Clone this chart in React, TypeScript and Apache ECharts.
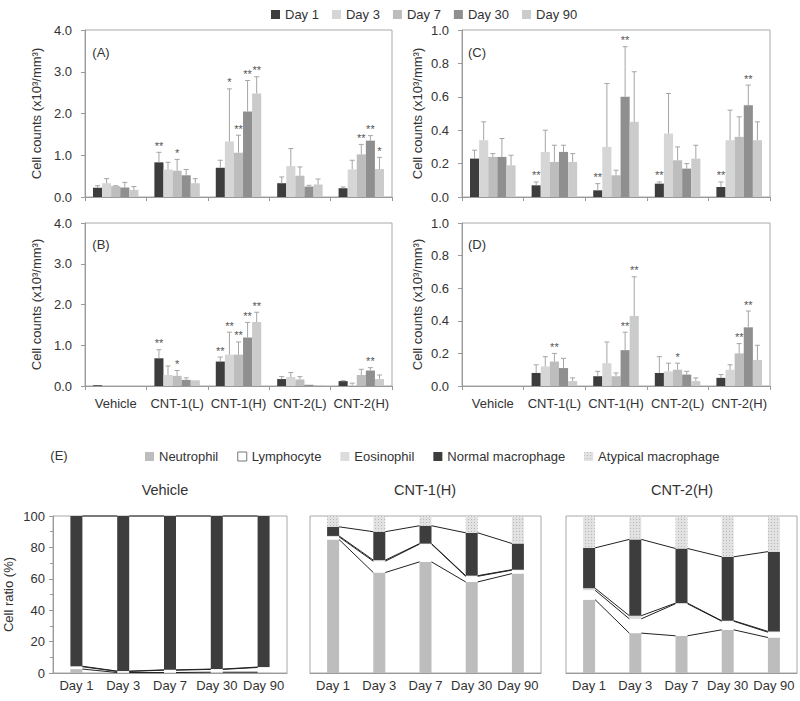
import React, { useEffect, useRef } from "react";
import * as echarts from "echarts";

const FONT = '"Liberation Sans", Arial, Helvetica, sans-serif';
const TXT = "#333";
const AX = "#9a9a9a";

const categories = ["Vehicle", "CNT-1(L)", "CNT-1(H)", "CNT-2(L)", "CNT-2(H)"];
const days = ["Day 1", "Day 3", "Day 7", "Day 30", "Day 90"];
const dayColors = ["#3d3d3d", "#d6d6d6", "#bdbdbd", "#8f8f8f", "#cbcbcb"];

// Panel A (x10^3/mm^3), rows = days, cols = categories
const meanA = [
  [0.22, 0.83, 0.7, 0.33, 0.21],
  [0.33, 0.66, 1.33, 0.74, 0.66],
  [0.26, 0.63, 1.06, 0.51, 1.02],
  [0.23, 0.52, 2.05, 0.25, 1.35],
  [0.17, 0.33, 2.48, 0.3, 0.67],
];
const sdA = [
  [0.05, 0.24, 0.18, 0.15, 0.03],
  [0.11, 0.17, 1.26, 0.42, 0.22],
  [0.01, 0.27, 0.42, 0.21, 0.24],
  [0.12, 0.14, 0.74, 0.03, 0.12],
  [0.08, 0.11, 0.4, 0.13, 0.28],
];
const starA = [
  ["", "**", "", "", ""],
  ["", "", "*", "", ""],
  ["", "*", "**", "", "**"],
  ["", "", "**", "", "**"],
  ["", "", "**", "", "*"],
];

// Panel B
const meanB = [
  [0.02, 0.68, 0.6, 0.17, 0.12],
  [0, 0.27, 0.77, 0.22, 0.02],
  [0, 0.25, 0.77, 0.16, 0.27],
  [0, 0.15, 1.19, 0.03, 0.38],
  [0, 0.14, 1.57, 0.02, 0.17],
];
const sdB = [
  [0, 0.21, 0.11, 0.06, 0.01],
  [0, 0.22, 0.55, 0.11, 0.05],
  [0, 0.13, 0.31, 0.07, 0.14],
  [0, 0.05, 0.37, 0, 0.07],
  [0, 0, 0.24, 0, 0.1],
];
const starB = [
  ["", "**", "**", "", ""],
  ["", "", "**", "", ""],
  ["", "*", "**", "", ""],
  ["", "", "**", "", "**"],
  ["", "", "**", "", ""],
];

// Panel C
const meanC = [
  [0.23, 0.07, 0.04, 0.08, 0.06],
  [0.34, 0.27, 0.3, 0.38, 0.34],
  [0.24, 0.21, 0.13, 0.22, 0.36],
  [0.24, 0.27, 0.6, 0.17, 0.55],
  [0.19, 0.21, 0.45, 0.23, 0.34],
];
const sdC = [
  [0.05, 0.02, 0.04, 0.01, 0.03],
  [0.11, 0.13, 0.38, 0.24, 0.18],
  [0.02, 0.1, 0.03, 0.08, 0.12],
  [0.11, 0.04, 0.3, 0.03, 0.12],
  [0.06, 0.05, 0.3, 0.08, 0.11],
];
const starC = [
  ["", "**", "**", "**", "**"],
  ["", "", "", "", ""],
  ["", "", "", "", ""],
  ["", "", "**", "", "**"],
  ["", "", "", "", ""],
];

// Panel D
const meanD = [
  [0, 0.08, 0.06, 0.08, 0.05],
  [0, 0.12, 0.14, 0.09, 0.1],
  [0, 0.15, 0.06, 0.1, 0.2],
  [0, 0.11, 0.22, 0.07, 0.36],
  [0, 0.03, 0.43, 0.03, 0.16],
];
const sdD = [
  [0, 0.05, 0.03, 0.1, 0.02],
  [0, 0.06, 0.13, 0.05, 0.03],
  [0, 0.05, 0.02, 0.04, 0.06],
  [0, 0.06, 0.11, 0.02, 0.1],
  [0, 0.02, 0.24, 0.02, 0.09],
];
const starD = [
  ["", "", "", "", ""],
  ["", "", "", "", ""],
  ["", "**", "", "*", "**"],
  ["", "", "**", "", "**"],
  ["", "", "**", "", ""],
];

// Panel E (cell ratio %), stacked bottom -> top
const cellTypes = ["Neutrophil", "Lymphocyte", "Eosinophil", "Normal macrophage", "Atypical macrophage"];
const cellColors = ["#bdbdbd", "#ffffff", "#dcdcdc", "#3d3d3d", "#e2e2e2"];
const eTitles = ["Vehicle", "CNT-1(H)", "CNT-2(H)"];

const vehNeut = [2.5, 0.3, 0.3, 0.5, 0.5];
const vehLymph = [1.5, 0.7, 1.5, 1.8, 3.0];
const vehEos = [0.3, 0.2, 0.2, 0.2, 0.3];
const vehNormal = [95.7, 98.8, 98.0, 97.5, 96.2];
const vehAtyp = [0, 0, 0, 0, 0];

const c1Neut = [85.0, 64.0, 70.8, 58.0, 63.3];
const c1Lymph = [1.7, 7.2, 11.3, 3.6, 2.2];
const c1Eos = [0.6, 0.7, 0.3, 0.4, 0.3];
const c1Normal = [5.8, 18.1, 11.4, 27.3, 16.7];
const c1Atyp = [6.9, 10.0, 6.2, 10.7, 17.5];

const c2Neut = [46.7, 25.4, 23.7, 27.5, 22.6];
const c2Lymph = [6.0, 9.1, 20.4, 5.5, 3.4];
const c2Eos = [1.3, 2.0, 0.4, 0.3, 0.5];
const c2Normal = [25.7, 48.6, 34.8, 40.7, 50.8];
const c2Atyp = [20.3, 14.9, 20.7, 26.0, 22.7];

const ePanels = [
  [vehNeut, vehLymph, vehEos, vehNormal, vehAtyp],
  [c1Neut, c1Lymph, c1Eos, c1Normal, c1Atyp],
  [c2Neut, c2Lymph, c2Eos, c2Normal, c2Atyp],
];

const BAR_GAP_RATIO = 0.26;
const E_BAR_W = 12;

function buildOption() {
  const grids: any[] = [
    { left: 85, top: 30, width: 307, height: 167 },
    { left: 462, top: 30, width: 308, height: 167 },
    { left: 85, top: 223, width: 307, height: 163 },
    { left: 462, top: 223, width: 308, height: 163 },
    { left: 53, top: 516, width: 234, height: 157 },
    { left: 310, top: 516, width: 231, height: 157 },
    { left: 566, top: 516, width: 231, height: 157 },
  ].map((g) => ({ ...g, show: true, borderColor: "#a8a8a8", borderWidth: 1, backgroundColor: "transparent" }));

  const xAxis: any[] = [];
  const yAxis: any[] = [];
  const series: any[] = [];

  const panels = [
    { mean: meanA, sd: sdA, star: starA, max: 4, interval: 1 },
    { mean: meanC, sd: sdC, star: starC, max: 1, interval: 0.2 },
    { mean: meanB, sd: sdB, star: starB, max: 4, interval: 1 },
    { mean: meanD, sd: sdD, star: starD, max: 1, interval: 0.2 },
  ];

  panels.forEach((p, g) => {
    xAxis.push({
      type: "category",
      gridIndex: g,
      data: categories,
      axisLine: { lineStyle: { color: AX } },
      axisTick: { show: true, length: 4, lineStyle: { color: AX } },
      axisLabel: { show: g >= 2, interval: 0, color: TXT, fontSize: 13, margin: 11, fontFamily: FONT },
    });
    const left = g % 2 === 0;
    yAxis.push({
      type: "value",
      gridIndex: g,
      min: 0,
      max: p.max,
      interval: p.interval,
      axisLine: { show: true, lineStyle: { color: AX } },
      axisTick: { show: true, length: 4, lineStyle: { color: AX } },
      splitLine: { show: false },
      axisLabel: { color: TXT, fontSize: 13, margin: 13, fontFamily: FONT, formatter: (v: number) => v.toFixed(1) },
      name: "Cell counts (x10³/mm³)",
      nameLocation: "middle",
      nameGap: left ? 42 : 38,
      nameTextStyle: { color: TXT, fontSize: 13, fontFamily: FONT },
    });
    days.forEach((d, di) => {
      series.push({
        type: "bar",
        name: d,
        xAxisIndex: g,
        yAxisIndex: g,
        data: p.mean[di],
        barGap: "0%",
        barCategoryGap: BAR_GAP_RATIO * 100 + "%",
        itemStyle: { color: dayColors[di] },
        emphasis: { disabled: true },
      });
    });
    const items: any[] = [];
    const stars: string[] = [];
    days.forEach((_, di) => {
      categories.forEach((__, ci) => {
        items.push([ci, di, p.mean[di][ci], p.sd[di][ci]]);
        stars.push(p.star[di][ci]);
      });
    });
    series.push({
      type: "custom",
      xAxisIndex: g,
      yAxisIndex: g,
      z: 5,
      data: items,
      encode: { x: 0, y: 2 },
      silent: true,
      itemStyle: { color: "#555" },
      renderItem: (params: any, api: any) => {
        const ci = api.value(0);
        const di = api.value(1);
        const m = api.value(2);
        const s = api.value(3);
        const band = api.size([1, 0])[0];
        const bw = (band * (1 - BAR_GAP_RATIO)) / 5;
        const base = api.coord([ci, m]);
        const x = base[0] + (di - 2) * bw;
        const yTop = base[1];
        const yCap = api.coord([ci, m + s])[1];
        const children: any[] = [];
        if (s > 0) {
          children.push({
            type: "line",
            shape: { x1: x, y1: yTop, x2: x, y2: yCap },
            style: { stroke: "#a5a5a5", lineWidth: 1 },
          });
          children.push({
            type: "line",
            shape: { x1: x - 2.5, y1: yCap, x2: x + 2.5, y2: yCap },
            style: { stroke: "#a5a5a5", lineWidth: 1 },
          });
        }
        const st = stars[params.dataIndex];
        if (st) {
          children.push({
            type: "text",
            x: x,
            y: yCap - 1,
            style: {
              legacy: false,
              text: st,
              align: "center",
              verticalAlign: "bottom",
              fontSize: 11,
              fontFamily: FONT,
              fill: "#555",
            },
          });
        }
        return { type: "group", children };
      },
    });
  });

  ePanels.forEach((vals, e) => {
    const g = 4 + e;
    xAxis.push({
      type: "category",
      gridIndex: g,
      data: days,
      axisLine: { lineStyle: { color: AX } },
      axisTick: { show: false },
      axisLabel: { interval: 0, color: TXT, fontSize: 13, margin: 6, fontFamily: FONT },
    });
    yAxis.push({
      type: "value",
      gridIndex: g,
      min: 0,
      max: 100,
      interval: 20,
      axisLine: { show: e === 0, lineStyle: { color: AX } },
      axisTick: { show: e === 0, length: 4, lineStyle: { color: AX } },
      minorTick: { show: e === 0, splitNumber: 2, length: 3, lineStyle: { color: AX } },
      splitLine: { show: false },
      axisLabel: { show: e === 0, color: TXT, fontSize: 13, margin: 8, fontFamily: FONT },
      name: e === 0 ? "Cell ratio (%)" : "",
      nameLocation: "middle",
      nameGap: 38,
      nameTextStyle: { color: TXT, fontSize: 13, fontFamily: FONT },
    });
    cellTypes.forEach((t, ti) => {
      const itemStyle: any = { color: cellColors[ti] };
      if (ti === 4) {
        itemStyle.decal = {
          symbol: "rect",
          symbolSize: 1,
          color: "#b8b8b8",
          dashArrayX: [1, 2],
          dashArrayY: [1, 2],
          rotation: 0,
        };
      }
      series.push({
        type: "bar",
        name: t,
        xAxisIndex: g,
        yAxisIndex: g,
        stack: "e" + e,
        data: vals[ti],
        barWidth: E_BAR_W,
        itemStyle,
        emphasis: { disabled: true },
      });
    });
    // series lines connecting stacked segment tops
    const cum: number[][] = [];
    let run = [0, 0, 0, 0, 0];
    for (let k = 0; k < 4; k++) {
      run = run.map((r, i) => r + vals[k][i]);
      cum.push(run.slice());
    }
    const lineItems: any[] = [];
    cum.forEach((lv) => {
      for (let i = 0; i < 4; i++) lineItems.push([i, lv[i], lv[i + 1]]);
    });
    series.push({
      type: "custom",
      xAxisIndex: g,
      yAxisIndex: g,
      z: 6,
      silent: true,
      data: lineItems,
      encode: { x: 0, y: 1 },
      itemStyle: { color: "#222" },
      renderItem: (params: any, api: any) => {
        const i = api.value(0);
        const p1 = api.coord([i, api.value(1)]);
        const p2 = api.coord([i + 1, api.value(2)]);
        return {
          type: "line",
          shape: { x1: p1[0] + E_BAR_W / 2, y1: p1[1], x2: p2[0] - E_BAR_W / 2, y2: p2[1] },
          style: { stroke: "#222", lineWidth: 1 },
        };
      },
    });
  });

  const textEl = (text: string, x: number, y: number, size: number) => ({
    type: "text",
    x,
    y,
    silent: true,
    style: { text, fill: TXT, fontSize: size, fontFamily: FONT, textAlign: "center", textVerticalAlign: "middle" },
  });

  return {
    animation: false,
    textStyle: { fontFamily: FONT },
    grid: grids,
    xAxis,
    yAxis,
    series,
    legend: [
      {
        data: days,
        left: 266,
        top: 3,
        itemWidth: 9,
        itemHeight: 9,
        itemGap: 13,
        icon: "rect",
        textStyle: { color: TXT, fontSize: 13, fontFamily: FONT },
        selectedMode: false,
      },
      {
        data: cellTypes.map((t, i) =>
          i === 1 ? { name: t, itemStyle: { color: "#fff", borderColor: "#777", borderWidth: 1 } } : { name: t }
        ),
        left: 140,
        top: 445,
        itemWidth: 9,
        itemHeight: 9,
        itemGap: 19,
        icon: "rect",
        textStyle: { color: TXT, fontSize: 13, fontFamily: FONT },
        selectedMode: false,
      },
    ],
    graphic: [
      textEl("(A)", 101, 52, 13),
      textEl("(C)", 477, 52, 13),
      textEl("(B)", 101, 244, 13),
      textEl("(D)", 477, 244, 13),
      textEl("(E)", 59, 455, 13),
      ...eTitles.map((t, i) => textEl(t, [165, 425, 682][i], 490, 14.5)),
    ],
  };
}

export default function App() {
  const ref = useRef<HTMLDivElement>(null);
  useEffect(() => {
    if (!ref.current) return;
    const chart = echarts.init(ref.current, undefined, { renderer: "svg" });
    chart.setOption(buildOption() as any);
    return () => chart.dispose();
  }, []);
  return (
    <div
      ref={ref}
      style={{ position: "absolute", left: 0, top: 0, width: 800, height: 701, background: "#fff" }}
    />
  );
}
